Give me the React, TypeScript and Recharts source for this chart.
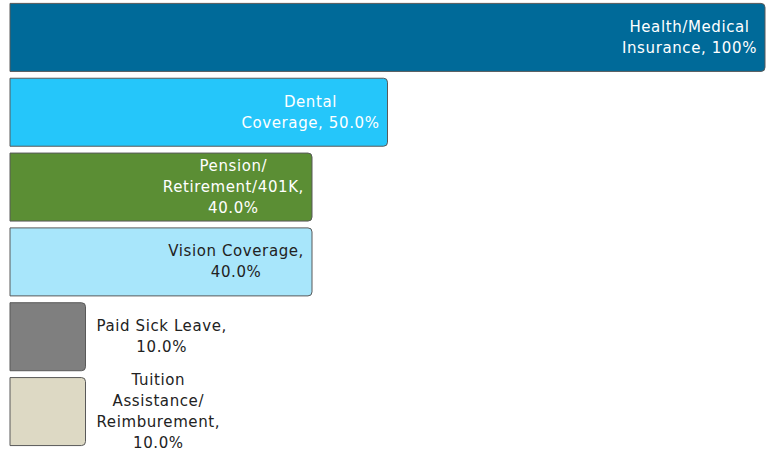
import React from "react";
import { BarChart, Bar, Cell, XAxis, YAxis, LabelList } from "recharts";

const categories = [
  "Health/Medical Insurance",
  "Dental Coverage",
  "Pension/ Retirement/401K",
  "Vision Coverage",
  "Paid Sick Leave",
  "Tuition Assistance/ Reimburement",
];
const values = [100, 50, 40, 40, 10, 10];
const labelLines = [
  ["Health/Medical", "Insurance, 100%"],
  ["Dental", "Coverage, 50.0%"],
  ["Pension/", "Retirement/401K,", "40.0%"],
  ["Vision Coverage,", "40.0%"],
  ["Paid Sick Leave,", "10.0%"],
  ["Tuition", "Assistance/", "Reimburement,", "10.0%"],
];
const barColors = ["#006a99", "#25c6fa", "#5b8e34", "#a8e6fb", "#7f7f7f", "#ddd9c4"];
const textColors = ["#ffffff", "#ffffff", "#ffffff", "#222222", "#222222", "#222222"];

const data = categories.map((name, i) => ({ name, value: values[i] }));

const FONT = "'DejaVu Sans', sans-serif";
const FONT_SIZE = 15;
const SPACING = 0.6;
const LINE_H = 21;

let ctx: CanvasRenderingContext2D | null = null;
const measure = (s: string) => {
  if (!ctx) {
    ctx = document.createElement("canvas").getContext("2d");
  }
  if (!ctx) return s.length * 9;
  ctx.font = `${FONT_SIZE}px ${FONT}`;
  return ctx.measureText(s).width + SPACING * s.length;
};

const BarLabel = (props: any) => {
  const { x, y, width, height, index } = props;
  const lines = labelLines[index];
  const blockW = Math.max(...lines.map(measure));
  const inside = values[index] > 20;
  const cx = inside ? x + width - 8 - blockW / 2 : x + width + 11 + blockW / 2;
  const cy = y + height / 2;
  const top = cy - ((lines.length - 1) * LINE_H) / 2;
  return (
    <text
      textAnchor="middle"
      fill={textColors[index]}
      fontSize={FONT_SIZE}
      fontFamily={FONT}
      letterSpacing={SPACING}
      dominantBaseline="central"
    >
      {lines.map((l, i) => (
        <tspan key={i} x={cx} y={top + i * LINE_H}>
          {l}
        </tspan>
      ))}
    </text>
  );
};

export default function App() {
  return (
    <div style={{ position: "absolute", left: 0, top: 0, width: 766, height: 453, background: "#fff" }}>
      <BarChart
        width={766}
        height={453}
        data={data}
        layout="vertical"
        margin={{ top: 0, right: 1, bottom: 4, left: 10 }}
        barCategoryGap={3.4}
      >
        <XAxis type="number" domain={[0, 100]} hide />
        <YAxis type="category" dataKey="name" hide />
        <Bar
          dataKey="value"
          isAnimationActive={false}
          radius={[0, 4, 4, 0]}
          stroke="#595959"
          strokeWidth={1}
        >
          {data.map((d, i) => (
            <Cell key={d.name} fill={barColors[i]} />
          ))}
          <LabelList dataKey="value" content={BarLabel} />
        </Bar>
      </BarChart>
    </div>
  );
}
